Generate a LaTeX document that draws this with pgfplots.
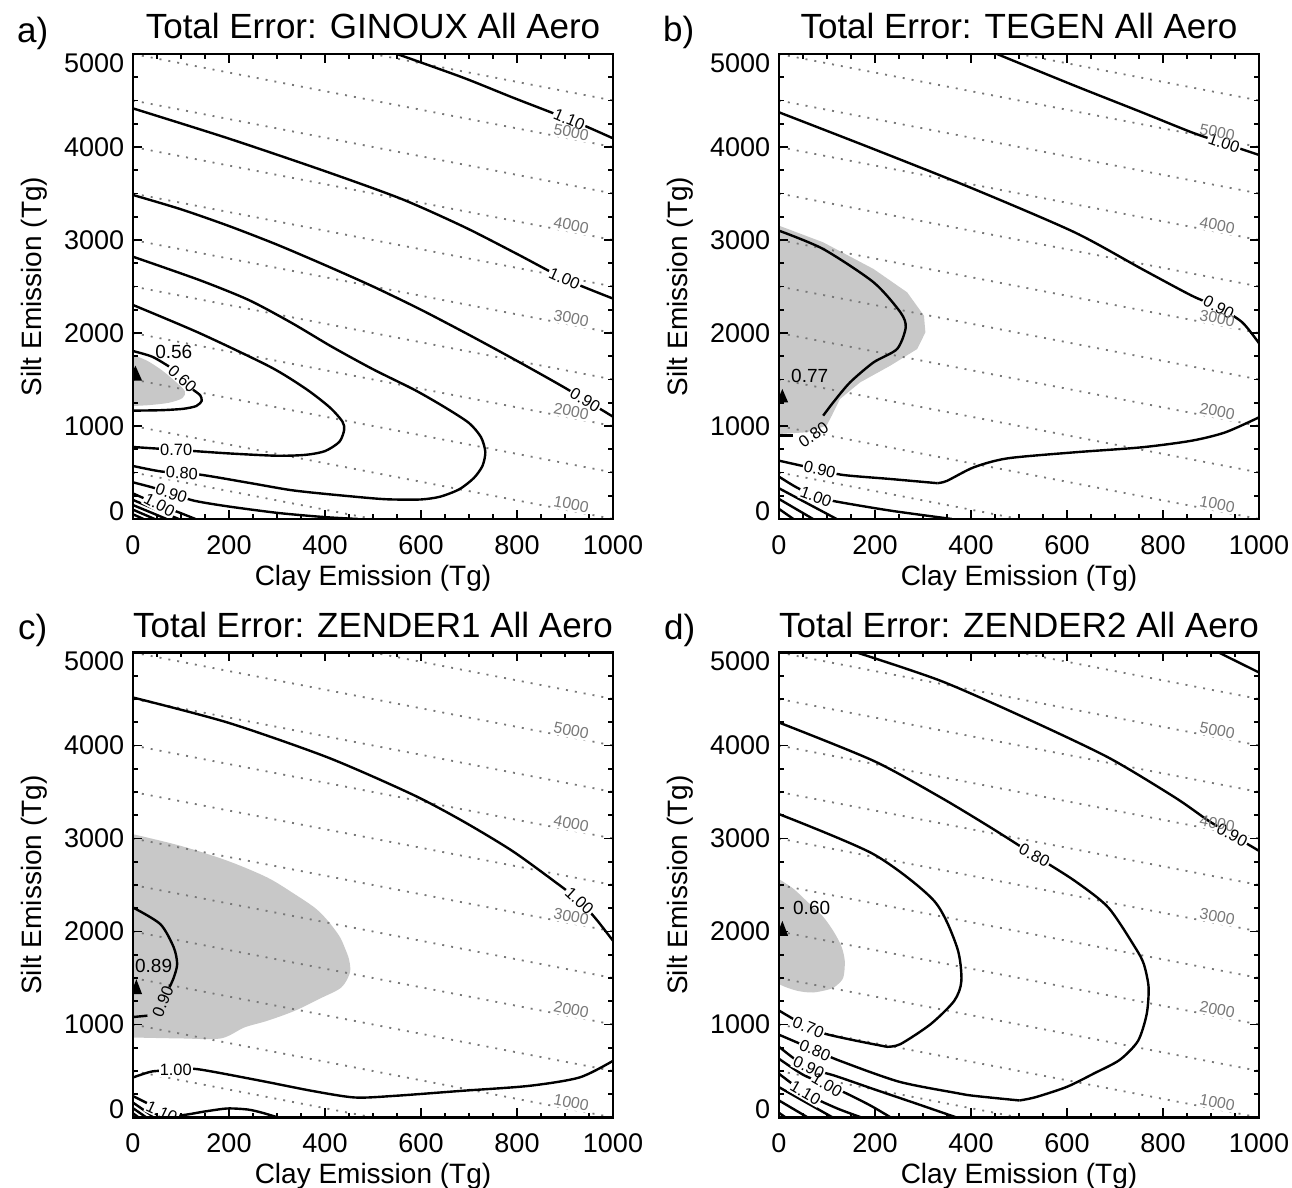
\documentclass[border=0pt]{standalone}
\usepackage{fontspec}
\setmainfont{Liberation Sans}
\usepackage{pgfplots}
\pgfplotsset{compat=1.18}
\definecolor{shade}{RGB}{200,200,200}
\definecolor{dotgray}{RGB}{120,120,120}
\pgfplotsset{
  panel/.style={
    scale only axis, width=240pt, height=232.5pt,
    xmin=0, xmax=1000, ymin=0, ymax=5000,
    xtick={0,200,400,600,800,1000}, xticklabels={0,200,400,600,800,1000},
    ytick={0,1000,2000,3000,4000,5000},
    yticklabels={\raisebox{4pt}[\height][\depth]{0},1000,2000,3000,4000,\raisebox{-4.5pt}[\height][\depth]{5000}},
    minor x tick num=3, minor y tick num=3,
    tick align=inside,
    major tick length=4.5pt, minor tick length=2.3pt,
    every tick/.style={black, line width=0.9pt},
    axis line style={line width=1.2pt},
    axis on top,
    ticklabel style={font=\fontsize{13.5}{16}\selectfont},
    xticklabel style={anchor=north, inner sep=0pt, yshift=-8pt},
    yticklabel style={anchor=east, inner sep=0pt, xshift=-4.25pt},
    xlabel={Clay Emission (Tg)}, ylabel={Silt Emission (Tg)},
    label style={font=\fontsize{14}{17}\selectfont},
    xlabel style={at={(axis description cs:0.5,-0.142)}, anchor=base},
    ylabel style={at={(axis description cs:-0.1906,0.5)}, anchor=base},
    title style={at={(axis description cs:0.5,1.007)}, anchor=base, font=\fontsize{17.5}{21}\selectfont},
  },
  cont/.style={black, line width=1.2pt, smooth, tension=0.45, mark=none},
  contl/.style={black, line width=1.2pt, mark=none},
  dotl/.style={dotgray, line width=0.9pt, dash pattern=on 1pt off 3.5pt, mark=none},
  shadefill/.style={fill=shade, draw=none, mark=none},
  tri/.style={fill=black, draw=none, mark=none},
}
\tikzset{
  clabbox/.style={font=\fontsize{8.2}{9}\selectfont, fill=white, inner sep=0.6pt},
  clabtxt/.style={font=\fontsize{8.2}{9}\selectfont, inner sep=0.6pt},
  minlab/.style={font=\fontsize{9.5}{11}\selectfont, inner sep=0pt},
  glab/.style={font=\fontsize{7.9}{9}\selectfont, text=dotgray, rotate=-11, inner sep=0.8pt},
}
\newcommand{\totlines}{%
\addplot[dotl] coordinates {(0,500) (1000,-500)};
\addplot[dotl] coordinates {(0,1000) (1000,0)};
\addplot[dotl] coordinates {(0,1500) (1000,500)};
\addplot[dotl] coordinates {(0,2000) (1000,1000)};
\addplot[dotl] coordinates {(0,2500) (1000,1500)};
\addplot[dotl] coordinates {(0,3000) (1000,2000)};
\addplot[dotl] coordinates {(0,3500) (1000,2500)};
\addplot[dotl] coordinates {(0,4000) (1000,3000)};
\addplot[dotl] coordinates {(0,4500) (1000,3500)};
\addplot[dotl] coordinates {(0,5000) (1000,4000)};
\addplot[dotl] coordinates {(0,5500) (1000,4500)};
\addplot[dotl] coordinates {(0,6000) (1000,5000)};
}
% #1 style, #2 wrapper (\phantom for the white break boxes, empty for the text)
\newcommand{\totlabels}[2]{%
\node[glab,#1] at (axis cs:913,160) {#2{1000}};
\node[glab,#1] at (axis cs:913,1160) {#2{2000}};
\node[glab,#1] at (axis cs:913,2160) {#2{3000}};
\node[glab,#1] at (axis cs:913,3160) {#2{4000}};
\node[glab,#1] at (axis cs:913,4160) {#2{5000}};
}
\newcommand{\labsA}[2]{%
\node[#1,rotate=-23] at (axis cs:909,4294) {#2{1.10}};
\node[#1,rotate=-24] at (axis cs:899,2583) {#2{1.00}};
\node[#1,rotate=-31] at (axis cs:942,1280) {#2{0.90}};
\node[#1,rotate=-3] at (axis cs:102,493) {#2{0.80}};
\node[#1] at (axis cs:90,743) {#2{0.70}};
\node[#1,rotate=-18] at (axis cs:80,275) {#2{0.90}};
\node[#1,rotate=-28] at (axis cs:55,150) {#2{1.00}};
}
\newcommand{\labsB}[2]{%
\node[#1,rotate=-19] at (axis cs:927,4040) {#2{1.00}};
\node[#1,rotate=-28] at (axis cs:916,2276) {#2{0.90}};
\node[#1,rotate=-13] at (axis cs:85,529) {#2{0.90}};
\node[#1,rotate=-20] at (axis cs:77,240) {#2{1.00}};
}
\newcommand{\labsC}[2]{%
\node[#1,rotate=-42] at (axis cs:930,2330) {#2{1.00}};
\node[#1] at (axis cs:89,508) {#2{1.00}};
\node[#1,rotate=-25] at (axis cs:60,60) {#2{1.10}};
}
\newcommand{\labsD}[2]{%
\node[#1,rotate=-28] at (axis cs:944,3039) {#2{0.90}};
\node[#1,rotate=-28] at (axis cs:532,2820) {#2{0.80}};
\node[#1,rotate=-23] at (axis cs:75,724) {#2{0.80}};
\node[#1,rotate=-22] at (axis cs:61,968) {#2{0.70}};
\node[#1,rotate=-25] at (axis cs:62,540) {#2{0.90}};
\node[#1,rotate=-30] at (axis cs:100,351) {#2{1.00}};
\node[#1,rotate=-30] at (axis cs:55,263) {#2{1.10}};
}
\begin{document}
\begin{tikzpicture}
\useasboundingbox (0,0) rectangle (646pt,594pt);
% ---------------- a) GINOUX
\begin{axis}[panel, at={(66.5pt,334.5pt)}, anchor=south west, title={Total Error: GINOUX All Aero}]
\addplot[shadefill, smooth] coordinates {(0,1765) (30,1700) (60,1600) (88,1480) (108,1375) (103,1300) (75,1250) (35,1225) (0,1215)} -- cycle;
\totlines
\totlabels{fill=white}{\phantom}
\addplot[cont] coordinates {(550,5000) (686,4749) (790,4534) (871,4372) (940,4230) (1000,4093)};
\addplot[cont] coordinates {(0,4415) (200,4090) (400,3740) (560,3440) (690,3140) (800,2850) (900,2580) (1000,2370)};
\addplot[cont] coordinates {(0,3484) (100,3330) (200,3150) (300,2950) (400,2730) (500,2500) (600,2250) (700,1980) (800,1700) (900,1410) (1000,1100)};
\addplot[cont] coordinates {(0,2820) (138,2570) (241,2355) (330,2110) (414,1853) (500,1610) (587,1387) (650,1200) (700,1032) (725,880) (734,720) (728,570) (710,440) (680,320) (640,240) (600,210) (540,210) (500,222) (400,270) (327,312) (240,390) (138,478) (60,510) (0,570)};
\addplot[cont] coordinates {(0,2301) (138,2000) (285,1638) (360,1400) (410,1200) (436,1050) (440,960) (430,830) (400,730) (360,690) (300,680) (200,705) (100,740) (0,774)};
\addplot[cont] coordinates {(0,1806) (40,1745) (75,1640)};
\addplot[cont] coordinates {(125,1390) (140,1330) (143,1270) (132,1215) (105,1185) (60,1170) (0,1165)};
\addplot[cont] coordinates {(0,394) (40,340) (80,275) (127,197) (197,136) (302,65) (400,20) (469,0)};
\addplot[cont] coordinates {(0,275) (55,150) (100,62) (130,0)};
\addplot[contl] coordinates {(0,205) (95,0)};
\addplot[contl] coordinates {(0,150) (70,0)};
\addplot[contl] coordinates {(0,100) (45,0)};
\addplot[contl] coordinates {(0,50) (22,0)};
\addplot[tri] coordinates {(-9,1487) (19,1487) (5,1650)} -- cycle;
\labsA{clabbox}{\phantom}
\labsA{clabtxt}{}
\node[clabtxt,rotate=-42] at (axis cs:103,1505) {0.60};
\node[minlab] at (axis cs:85,1800) {0.56};
\totlabels{}{}
\end{axis}
% ---------------- b) TEGEN
\begin{axis}[panel, at={(389.5pt,334.5pt)}, anchor=south west, title={Total Error: TEGEN All Aero}]
\addplot[shadefill] coordinates {(0,3154) (92,2975) (197,2688) (267,2437) (302,2186) (305,2007) (288,1828) (232,1649) (169,1469) (127,1290) (110,1111) (99,1004) (57,932) (0,914)} -- cycle;
\totlines
\totlabels{fill=white}{\phantom}
\addplot[cont] coordinates {(454,5000) (616,4659) (756,4373) (860,4157) (927,4040) (1000,3914)};
\addplot[cont] coordinates {(0,4373) (197,3978) (406,3548) (616,3082) (756,2688) (860,2401) (916,2276) (965,2115) (1000,1890)};
\addplot[cont] coordinates {(0,3100) (92,2903) (197,2545) (253,2222) (264,2060) (246,1828) (197,1684) (148,1469) (113,1254) (92,1111)};
\addplot[contl] coordinates {(0,896) (29,896)};
\addplot[cont] coordinates {(0,627) (85,529) (134,473) (232,430) (330,385)};
\addplot[cont] coordinates {(330,385) (350,410) (406,556) (476,652) (616,717) (756,771) (860,842) (930,932) (1000,1093)};
\addplot[cont] coordinates {(0,455) (34,347) (77,240) (121,186) (232,90) (360,0)};
\addplot[contl] coordinates {(0,330) (120,0)};
\addplot[contl] coordinates {(0,215) (71,0)};
\addplot[contl] coordinates {(0,108) (30,0)};
\addplot[tri] coordinates {(-5,1254) (19,1254) (7,1398)} -- cycle;
\labsB{clabbox}{\phantom}
\labsB{clabtxt}{}
\node[clabtxt,rotate=35] at (axis cs:72,905) {0.80};
\node[minlab] at (axis cs:64,1541) {0.77};
\totlabels{}{}
\end{axis}
% ---------------- c) ZENDER1
\begin{axis}[panel, at={(66.5pt,35.25pt)}, anchor=south west, title={Total Error: ZENDER1 All Aero}]
\addplot[shadefill, smooth] coordinates {(0,3046) (100,2920) (197,2760) (280,2580) (337,2401) (380,2250) (406,2115) (430,1950) (441,1828) (450,1700) (452,1559) (434,1398) (390,1280) (337,1147) (280,1040) (232,968) (183,850) (100,850) (0,860)} -- cycle;
\totlines
\totlabels{fill=white}{\phantom}
\addplot[cont] coordinates {(0,4516) (197,4247) (406,3871) (581,3476) (686,3190) (790,2867) (881,2527) (930,2330) (965,2132) (1000,1900)};
\addplot[cont] coordinates {(0,2258) (57,2079) (85,1828) (92,1649) (85,1505) (76,1400)};
\addplot[contl] coordinates {(0,1080) (30,1095)};
\addplot[cont] coordinates {(0,430) (40,495) (89,508) (134,520) (267,394) (372,287) (462,215) (546,233) (686,287) (825,340) (930,430) (1000,609)};
\addplot[cont] coordinates {(0,230) (35,140) (65,60) (100,25) (150,65) (197,97) (240,85) (270,50) (302,0)};
\addplot[contl] coordinates {(0,160) (45,0)};
\addplot[contl] coordinates {(0,100) (28,0)};
\addplot[contl] coordinates {(0,45) (12,0)};
\addplot[tri] coordinates {(-5,1326) (19,1326) (7,1487)} -- cycle;
\labsC{clabbox}{\phantom}
\labsC{clabtxt}{}
\node[clabtxt,rotate=68] at (axis cs:62,1250) {0.90};
\node[minlab] at (axis cs:43,1631) {0.89};
\totlabels{}{}
\end{axis}
% ---------------- d) ZENDER2
\begin{axis}[panel, at={(389.5pt,35.25pt)}, anchor=south west, title={Total Error: ZENDER2 All Aero}]
\addplot[shadefill, smooth] coordinates {(0,2563) (30,2460) (57,2330) (90,2170) (113,2007) (130,1840) (137,1684) (134,1505) (120,1420) (106,1380) (71,1344) (40,1360) (15,1400) (0,1434)} -- cycle;
\totlines
\totlabels{fill=white}{\phantom}
\addplot[cont] coordinates {(916,5000) (1000,4785)};
\addplot[cont] coordinates {(162,5000) (337,4695) (511,4301) (686,3871) (825,3441) (895,3190) (944,3039) (1000,2867)};
\addplot[cont] coordinates {(0,4247) (197,3835) (337,3441) (441,3118) (532,2820) (616,2545) (686,2258) (742,1828) (760,1650) (770,1400) (766,1111) (748,824) (710,620) (656,473) (600,330) (535,219) (501,183)};
\addplot[cont] coordinates {(501,183) (406,233) (371,262) (250,385) (127,609) (75,724) (0,890)};
\addplot[cont] coordinates {(0,1150) (61,968) (99,896) (162,824) (225,760)};
\addplot[cont] coordinates {(225,760) (253,789) (316,1004) (365,1254) (380,1469) (371,1828) (323,2330) (197,2831) (0,3262)};
\addplot[cont] coordinates {(0,760) (35,620) (68,520) (117,448) (200,300) (280,160) (370,0)};
\addplot[cont] coordinates {(0,631) (50,460) (95,362) (140,260) (190,130) (233,0)};
\addplot[cont] coordinates {(0,470) (58,252) (120,100) (172,0)};
\addplot[contl] coordinates {(0,326) (112,0)};
\addplot[contl] coordinates {(0,183) (60,0)};
\addplot[contl] coordinates {(0,50) (14,0)};
\addplot[tri] coordinates {(-5,1953) (19,1953) (7,2115)} -- cycle;
\labsD{clabbox}{\phantom}
\labsD{clabtxt}{}
\node[minlab] at (axis cs:68,2258) {0.60};
\totlabels{}{}
\end{axis}
\node[anchor=base west, font=\fontsize{17.5}{21}\selectfont] at (5pt,572.5pt) {a)};
\node[anchor=base west, font=\fontsize{17.5}{21}\selectfont] at (328pt,573pt) {b)};
\node[anchor=base west, font=\fontsize{17.5}{21}\selectfont] at (5.5pt,274pt) {c)};
\node[anchor=base west, font=\fontsize{17.5}{21}\selectfont] at (328.5pt,274pt) {d)};
\end{tikzpicture}
\end{document}
